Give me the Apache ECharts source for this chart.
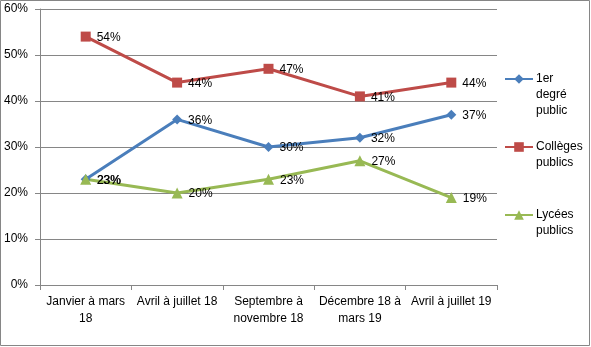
<!DOCTYPE html>
<html><head><meta charset="utf-8">
<script src="https://cdn.jsdelivr.net/npm/echarts@6/dist/echarts.min.js"></script>
<style>html,body{margin:0;padding:0;background:#fff}#c{width:591px;height:347px}</style>
</head><body><div id="c"></div>
<script>
const categories = ["Janvier à mars\n18", "Avril à juillet 18", "Septembre à\nnovembre 18", "Décembre 18 à\nmars 19", "Avril à juillet 19"];
const primaire = [23, 36, 30, 32, 37];
const colleges = [54, 44, 47, 41, 44];
const lycees = [23, 20, 23, 27, 19];
const seriesNames = ["1er degré public", "Collèges publics", "Lycées publics"];
const legendTexts = ["\n\n1er\ndegré\npublic", "\nCollèges\npublics", "\nLycées\npublics"];
const yTicks = [0, 10, 20, 30, 40, 50, 60];

const FONT = "Liberation Sans";
const chart = echarts.init(document.getElementById('c'), null, {renderer: 'canvas'});
const lbl = {show: true, position: 'right', distance: 6, offset: [0, 1], formatter: p => p.value + '%', color: '#000', fontSize: 12, fontFamily: FONT};
function mk(name, data, color, symbol, size) {
  return {name, type: 'line', data, symbol, symbolSize: size, lineStyle: {width: 3, color}, itemStyle: {color},
    label: lbl, animation: false};
}
const legendTops = [39, 123, 191];
chart.setOption({
  animation: false,
  textStyle: {fontFamily: FONT},
  grid: {left: 40, right: 94, top: 9, bottom: 62},
  graphic: [{type: 'rect', shape: {x: 0.5, y: 0.5, width: 589, height: 345}, style: {fill: 'none', stroke: '#868686', lineWidth: 1}}],
  legend: seriesNames.map((n, i) => ({
    data: [n], left: 504, top: legendTops[i], padding: 0, itemWidth: 28, itemHeight: 12, itemGap: 3,
    formatter: () => legendTexts[i],
    textStyle: {fontSize: 12, lineHeight: 16, color: '#000', fontFamily: FONT, padding: [0, 0, 0, -2]}
  })),
  xAxis: {type: 'category', data: categories, boundaryGap: true,
    axisLine: {lineStyle: {color: '#868686'}}, axisTick: {show: true, alignWithLabel: false, length: 5, lineStyle: {color: '#868686'}},
    axisLabel: {interval: 0, color: '#000', fontSize: 12, lineHeight: 17, margin: 8, fontFamily: FONT}},
  yAxis: {type: 'value', min: yTicks[0], max: yTicks[yTicks.length - 1], interval: 10,
    axisLine: {show: true, lineStyle: {color: '#868686'}}, axisTick: {show: true, length: 5, lineStyle: {color: '#868686'}},
    splitLine: {lineStyle: {color: '#868686'}},
    axisLabel: {formatter: v => v + '%', color: '#000', fontSize: 12, margin: 12, fontFamily: FONT}},
  series: [
    mk(seriesNames[0], primaire, '#4A7EBB', 'diamond', 10),
    mk(seriesNames[1], colleges, '#BE4B48', 'rect', 10),
    mk(seriesNames[2], lycees, '#98B954', 'triangle', 11)
  ]
});
</script></body></html>
